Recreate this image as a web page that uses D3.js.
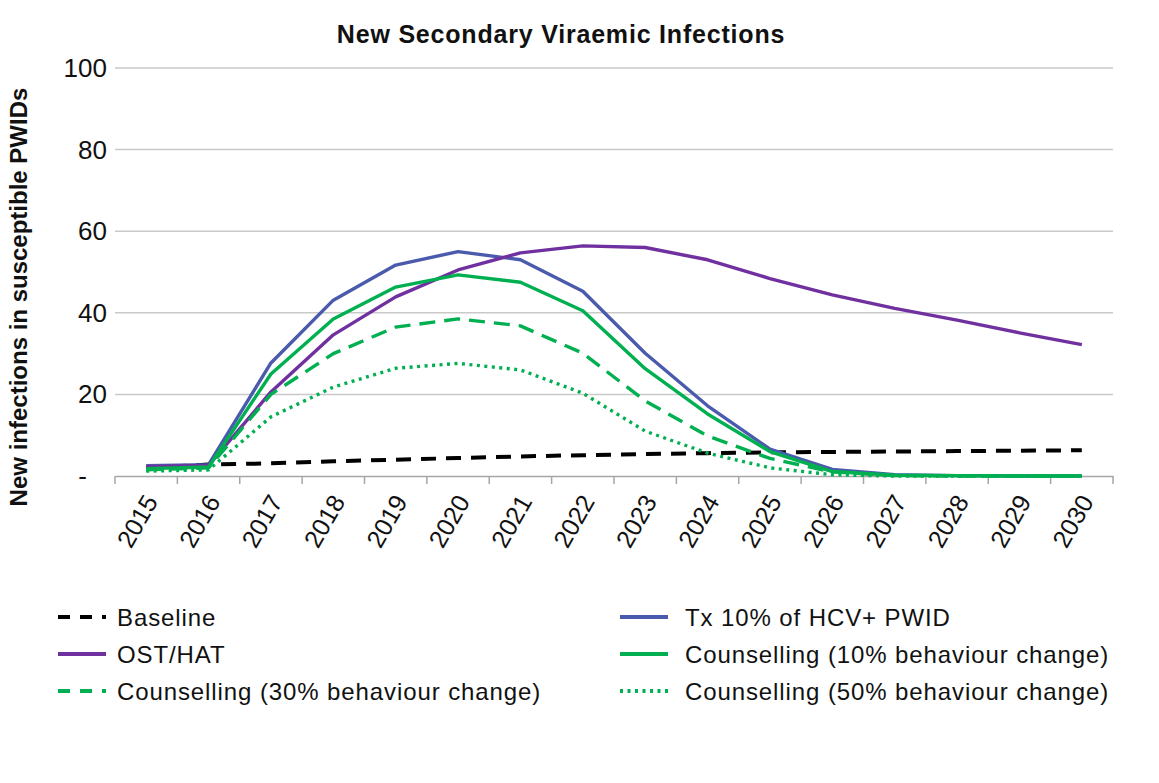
<!DOCTYPE html>
<html>
<head>
<meta charset="utf-8">
<script src="https://cdn.jsdelivr.net/npm/d3@7"></script>
<style>
  body { margin: 0; background: #fff; }
  text { font-family: "Liberation Sans", Arial, Helvetica, sans-serif; fill: #111; }
</style>
</head>
<body>
<script>
const years = ["2015","2016","2017","2018","2019","2020","2021","2022","2023","2024","2025","2026","2027","2028","2029","2030"];

const baseline   = [2.0, 2.8, 3.1, 3.6, 4.0, 4.4, 4.8, 5.1, 5.4, 5.6, 5.8, 5.9, 6.0, 6.1, 6.2, 6.3];
const ostHat     = [2.3, 2.6, 20.6, 34.6, 43.9, 50.5, 54.7, 56.4, 56.0, 53.0, 48.4, 44.4, 41.1, 38.2, 35.1, 32.2];
const tx10       = [2.5, 2.8, 27.7, 43.1, 51.7, 55.0, 53.0, 45.3, 30.1, 17.2, 6.6, 1.6, 0.3, 0.1, 0.0, 0.0];
const couns10    = [1.8, 2.2, 25.0, 38.5, 46.3, 49.3, 47.5, 40.5, 26.3, 15.2, 6.0, 1.1, 0.2, 0.1, 0.0, 0.0];
const couns30    = [1.5, 2.0, 20.0, 30.0, 36.5, 38.5, 36.8, 30.1, 18.4, 9.8, 4.3, 1.0, 0.1, 0.0, 0.0, 0.0];
const couns50    = [1.2, 1.5, 14.5, 21.8, 26.4, 27.6, 26.0, 20.3, 11.0, 5.6, 2.0, 0.3, 0.0, 0.0, 0.0, 0.0];

const yTicks = [0, 20, 40, 60, 80, 100];

const width = 1159;
const height = 783;
const margin = { top: 68, right: 46, bottom: 307, left: 115 };

const svg = d3.select("body")
  .append("svg")
  .attr("width", width)
  .attr("height", height);

const xScale = d3.scaleBand()
  .domain(years)
  .range([margin.left, width - margin.right]);

const yScale = d3.scaleLinear()
  .domain([0, 100])
  .range([height - margin.bottom, margin.top]);

// gridlines
svg.append("g")
  .selectAll("line")
  .data(yTicks.filter(d => d > 0))
  .enter()
  .append("line")
  .attr("x1", margin.left)
  .attr("x2", width - margin.right)
  .attr("y1", d => yScale(d))
  .attr("y2", d => yScale(d))
  .attr("stroke", "#c9c9c9")
  .attr("stroke-width", 1.5);

// y tick labels ("-" for zero, accounting style)
svg.append("g")
  .selectAll("text")
  .data(yTicks)
  .enter()
  .append("text")
  .attr("x", d => d === 0 ? 87 : 107)
  .attr("y", d => yScale(d) + 9)
  .attr("text-anchor", "end")
  .style("font-size", "26px")
  .text(d => d === 0 ? "-" : d);

// x axis
const xAxis = d3.axisBottom(xScale).tickSize(0).tickPadding(0);
const gx = svg.append("g")
  .attr("transform", `translate(0, ${yScale(0)})`)
  .call(xAxis);
gx.select(".domain").attr("stroke", "#a6a6a6").attr("stroke-width", 1.5);

// tick marks at category boundaries
gx.selectAll(".bound")
  .data(years.concat(["end"]))
  .enter()
  .append("line")
  .attr("x1", (d, i) => margin.left + i * xScale.step())
  .attr("x2", (d, i) => margin.left + i * xScale.step())
  .attr("y1", 0)
  .attr("y2", 8)
  .attr("stroke", "#a6a6a6")
  .attr("stroke-width", 1.5);

gx.selectAll(".tick text")
  .attr("transform", "translate(5, 21) rotate(-60)")
  .attr("text-anchor", "end")
  .attr("dy", "0.35em")
  .style("font-size", "25px")
  .style("font-family", "Liberation Sans, Arial, sans-serif")
  .attr("fill", "#111");

// lines
const series = [
  { name: "Baseline", values: baseline, color: "#000000", dash: "15,10", legDash: "12,10" },
  { name: "OST/HAT", values: ostHat, color: "#7030a0", dash: null, legDash: null },
  { name: "Counselling (30% behaviour change)", values: couns30, color: "#00b050", dash: "16,9", legDash: "12,10" },
  { name: "Tx 10% of HCV+ PWID", values: tx10, color: "#4a5aac", dash: null, legDash: null },
  { name: "Counselling (10% behaviour change)", values: couns10, color: "#00b050", dash: null, legDash: null },
  { name: "Counselling (50% behaviour change)", values: couns50, color: "#00b050", dash: "3,4.5", legDash: "3,4.5" }
];

const line = d3.line()
  .x((d, i) => xScale(years[i]) + xScale.bandwidth() / 2)
  .y(d => yScale(d));

const drawOrder = [0, 3, 1, 4, 2, 5];
svg.append("g")
  .selectAll("path")
  .data(drawOrder.map(i => series[i]))
  .enter()
  .append("path")
  .attr("d", d => line(d.values))
  .attr("fill", "none")
  .attr("stroke", d => d.color)
  .attr("stroke-width", d => d.name === "Baseline" ? 4 : 3.4)
  .attr("stroke-dasharray", d => d.dash)
  .attr("stroke-linejoin", "round");

// title
svg.append("text")
  .attr("x", 561)
  .attr("y", 43)
  .attr("text-anchor", "middle")
  .style("font-size", "25px")
  .style("font-weight", "bold")
  .style("letter-spacing", "0.8px")
  .text("New Secondary Viraemic Infections");

// y-axis title
svg.append("text")
  .attr("transform", "rotate(-90)")
  .attr("x", -297)
  .attr("y", 27)
  .attr("text-anchor", "middle")
  .style("font-size", "24px")
  .style("font-weight", "bold")
  .text("New infections in susceptible PWIDs");

// legend
const legend = svg.append("g");
const leg = legend.selectAll("g")
  .data(series)
  .enter()
  .append("g")
  .attr("transform", (d, i) => `translate(${i < 3 ? 58 : 620}, ${617 + (i % 3) * 37})`);

leg.append("line")
  .attr("x1", 0)
  .attr("x2", 48)
  .attr("stroke", d => d.color)
  .attr("stroke-width", 4)
  .attr("stroke-dasharray", d => d.legDash);

leg.append("text")
  .attr("x", (d, i) => i < 3 ? 59 : 65)
  .attr("y", 9)
  .style("font-size", "24px")
  .style("letter-spacing", "0.9px")
  .text(d => d.name);
</script>
</body>
</html>
